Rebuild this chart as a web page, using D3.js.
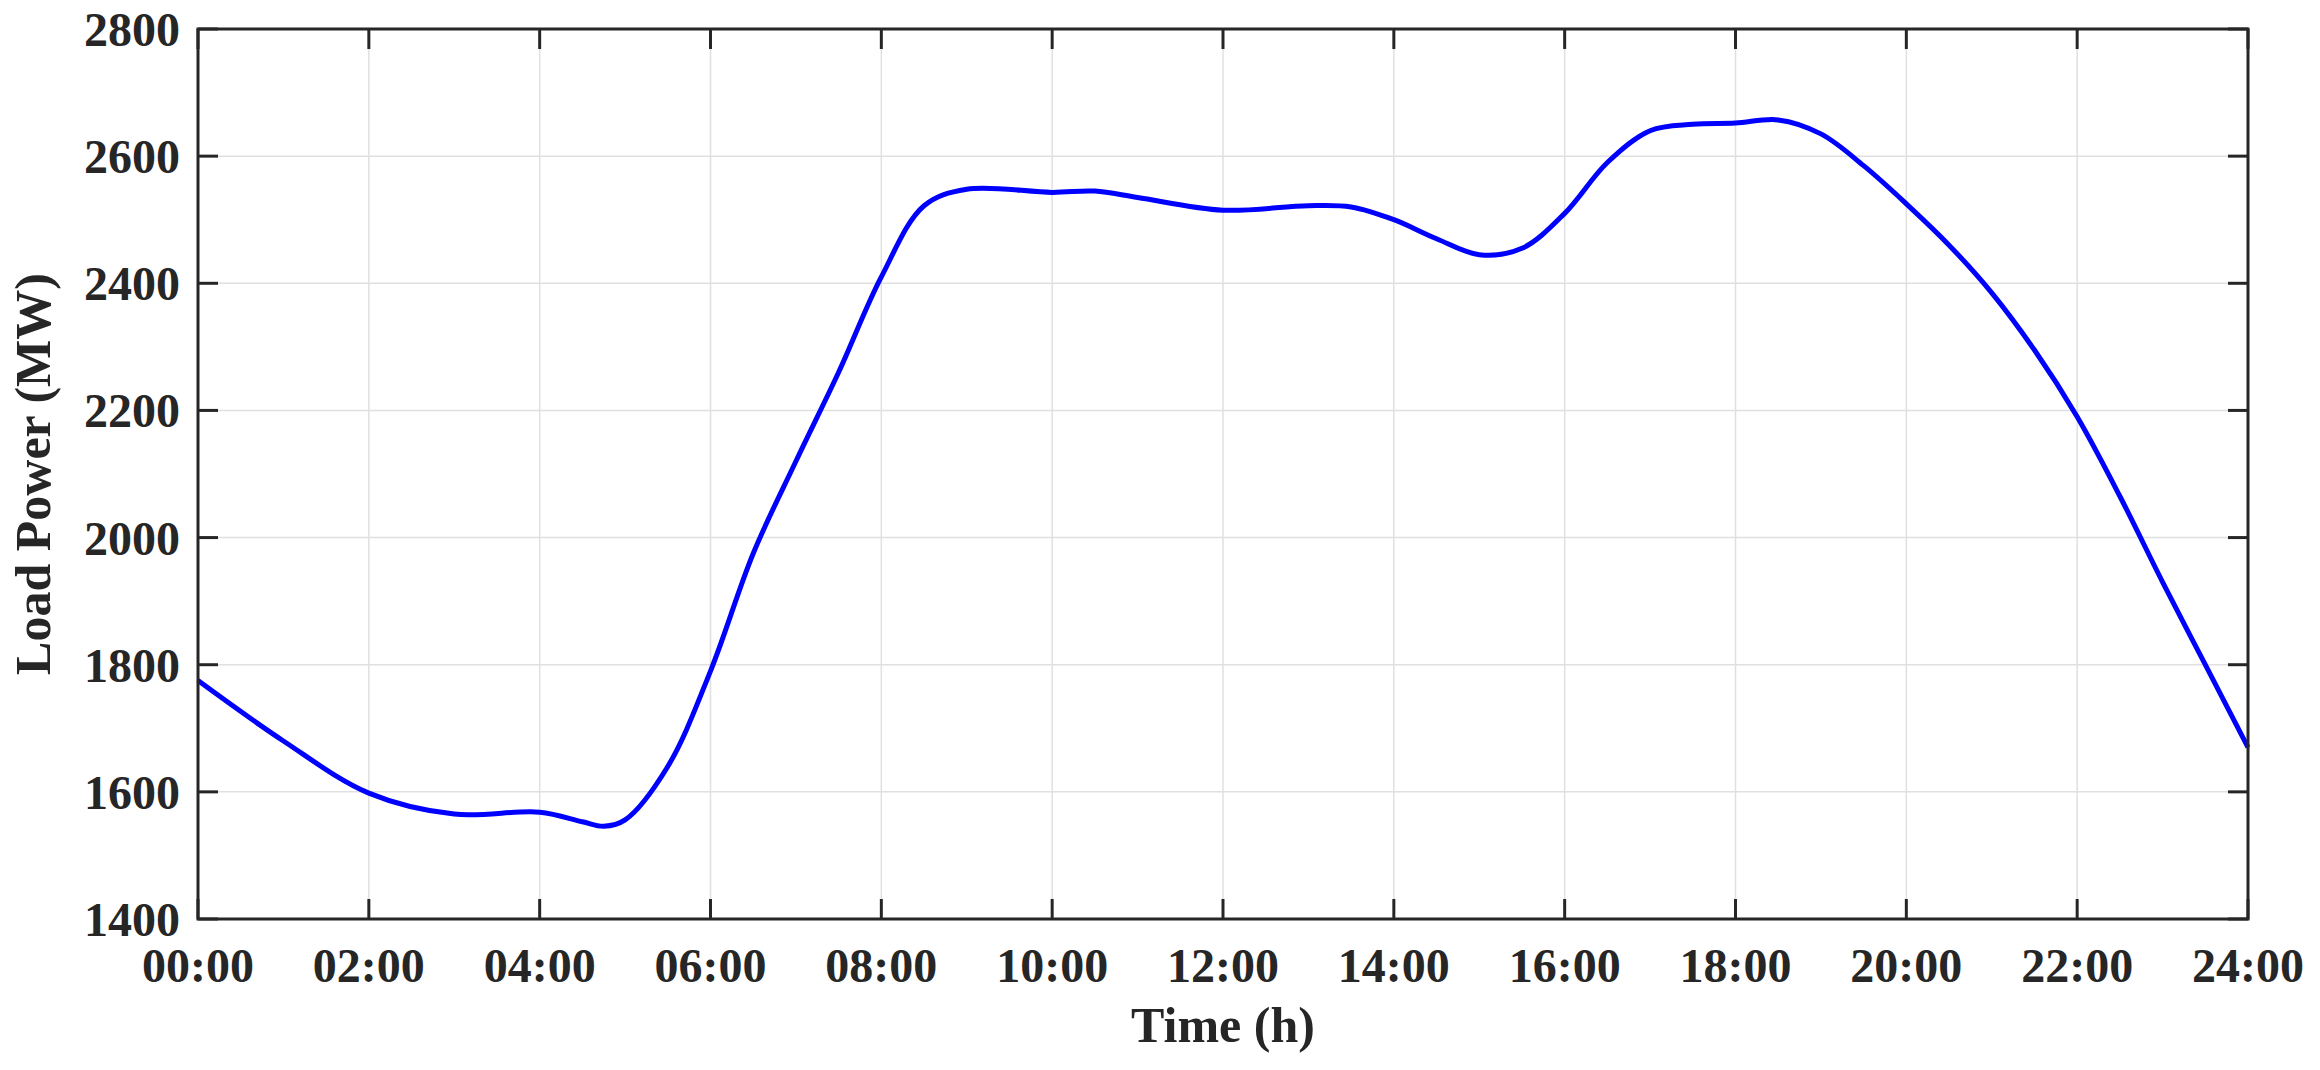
<!DOCTYPE html>
<html><head><meta charset="utf-8">
<script src="https://cdn.jsdelivr.net/npm/d3@7"></script>
<style>body{margin:0;background:#fff}text{font-family:"Liberation Serif","Times New Roman",serif;font-weight:bold;fill:#262626}</style>
</head><body>
<script>
var hours = [0,1,2,3,4,4.5,4.75,5,5.5,6,6.5,7,7.5,8,8.5,9,10,10.5,11,12,13,13.5,14,14.5,15,15.5,16,16.5,17,17.5,18,18.5,19,19.5,20,20.5,21,21.5,22,22.5,23,23.5,24];
var load = [1775,1680,1598,1565,1568,1553,1546,1556,1640,1790,1975,2120,2260,2410,2522,2548,2543,2545,2535,2515,2522,2520,2500,2470,2445,2455,2510,2590,2640,2650,2652,2657,2635,2585,2525,2460,2385,2295,2190,2065,1930,1800,1670];
var yTicks = [1400,1600,1800,2000,2200,2400,2600,2800];
var xTicks = [0,2,4,6,8,10,12,14,16,18,20,22,24];

var W = 2320, H = 1070, L = 198, R = 2248, T = 29, B = 919;
var svg = d3.select("body").append("svg").attr("width", W).attr("height", H);
var x = d3.scaleLinear().domain([0,24]).range([L,R]);
var y = d3.scaleLinear().domain([1400,2800]).range([B,T]);

// grid
svg.selectAll(".gx").data(xTicks).enter().append("line")
  .attr("x1", d => x(d)).attr("x2", d => x(d)).attr("y1", T).attr("y2", B)
  .attr("stroke", "#e0e0e0").attr("stroke-width", 1.5);
svg.selectAll(".gy").data(yTicks).enter().append("line")
  .attr("y1", d => y(d)).attr("y2", d => y(d)).attr("x1", L).attr("x2", R)
  .attr("stroke", "#e0e0e0").attr("stroke-width", 1.5);

// line
svg.append("path").datum(hours.map((h, i) => [h, load[i]]))
  .attr("fill", "none").attr("stroke", "#0000ff").attr("stroke-width", 5)
  .attr("d", d3.line().x(d => x(d[0])).y(d => y(d[1])).curve(d3.curveCatmullRom));

// ticks inward
var tk = 20;
svg.selectAll(".tx").data(xTicks).enter().append("g").each(function(d) {
  var g = d3.select(this);
  g.append("line").attr("x1", x(d)).attr("x2", x(d)).attr("y1", B).attr("y2", B - tk);
  g.append("line").attr("x1", x(d)).attr("x2", x(d)).attr("y1", T).attr("y2", T + tk);
}).selectAll("line").attr("stroke", "#262626").attr("stroke-width", 3);
svg.selectAll(".ty").data(yTicks).enter().append("g").each(function(d) {
  var g = d3.select(this);
  g.append("line").attr("y1", y(d)).attr("y2", y(d)).attr("x1", L).attr("x2", L + tk);
  g.append("line").attr("y1", y(d)).attr("y2", y(d)).attr("x1", R).attr("x2", R - tk);
}).selectAll("line").attr("stroke", "#262626").attr("stroke-width", 3);

svg.append("rect").attr("x", L).attr("y", T).attr("width", R - L).attr("height", B - T)
  .attr("fill", "none").attr("stroke", "#262626").attr("stroke-width", 3);

// labels
svg.selectAll(".lx").data(xTicks).enter().append("text")
  .attr("x", d => x(d)).attr("y", 982).attr("text-anchor", "middle").attr("font-size", 48)
  .text(d => (d < 10 ? "0" : "") + d + ":00");
svg.selectAll(".ly").data(yTicks).enter().append("text")
  .attr("x", 180).attr("y", d => y(d) + 17).attr("text-anchor", "end").attr("font-size", 48)
  .text(d => d);
svg.append("text").attr("x", (L + R) / 2).attr("y", 1042).attr("text-anchor", "middle")
  .attr("font-size", 50).text("Time (h)");
svg.append("text").attr("transform", "translate(50," + (T + B) / 2 + ") rotate(-90)")
  .attr("text-anchor", "middle").attr("font-size", 50).text("Load Power (MW)");
</script>
</body></html>
